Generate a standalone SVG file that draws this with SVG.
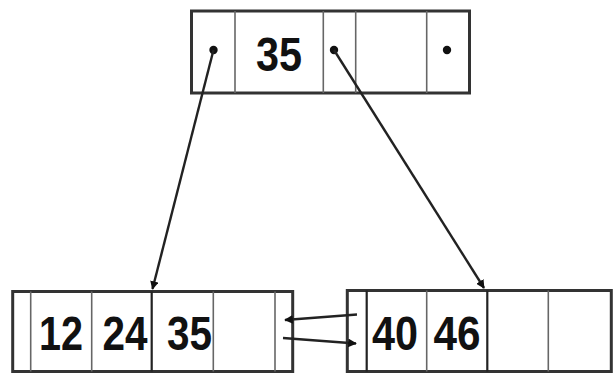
<svg xmlns="http://www.w3.org/2000/svg" width="613" height="374" viewBox="0 0 613 374">
<defs>
<style>
.box{fill:#fff;stroke:#333;stroke-width:3}
.div{stroke:#666;stroke-width:1.6}
.divk{stroke:#222;stroke-width:2.2}
.num{font-family:"Liberation Sans",Arial,sans-serif;font-size:48px;font-weight:bold;fill:#111;text-anchor:middle}
.dot{fill:#111}
.con{stroke:#222;stroke-width:2.4;fill:none}
</style>
<marker id="ah" viewBox="0 0 10 10" refX="9" refY="5" markerWidth="3.6" markerHeight="3.6" orient="auto" markerUnits="strokeWidth">
<path d="M0,0 L10,5 L0,10 z" fill="#111"/>
</marker>
</defs>
<rect width="613" height="374" fill="#fff"/>
<g id="root">
<rect class="box" x="191.5" y="11" width="278" height="82"/>
<line class="div" x1="235" y1="11" x2="235" y2="93"/>
<line class="div" x1="323.3" y1="11" x2="323.3" y2="93"/>
<line class="div" x1="355.7" y1="11" x2="355.7" y2="93"/>
<line class="div" x1="426.7" y1="11" x2="426.7" y2="93"/>
<circle class="dot" cx="213.5" cy="50" r="4.2"/>
<circle class="dot" cx="334" cy="50" r="4.2"/>
<circle class="dot" cx="447" cy="50" r="4.2"/>
<text class="num" x="279" y="71" textLength="46" lengthAdjust="spacingAndGlyphs">35</text>
</g>
<g id="leaf-left">
<rect class="box" x="12.7" y="291.5" width="280" height="80"/>
<line class="div" x1="30.7" y1="291.5" x2="30.7" y2="371.5"/>
<line class="div" x1="91.7" y1="291.5" x2="91.7" y2="371.5"/>
<line class="divk" x1="151.7" y1="291.5" x2="151.7" y2="371.5"/>
<line class="div" x1="213.3" y1="291.5" x2="213.3" y2="371.5"/>
<line class="div" x1="275" y1="291.5" x2="275" y2="371.5"/>
<text class="num" x="61" y="350" textLength="44" lengthAdjust="spacingAndGlyphs">12</text>
<text class="num" x="125" y="350" textLength="45" lengthAdjust="spacingAndGlyphs">24</text>
<text class="num" x="189.5" y="350" textLength="45" lengthAdjust="spacingAndGlyphs">35</text>
</g>
<g id="leaf-right">
<rect class="box" x="347.3" y="290.5" width="264" height="81"/>
<line class="divk" x1="366.7" y1="290.5" x2="366.7" y2="371.5"/>
<line class="div" x1="426.7" y1="290.5" x2="426.7" y2="371.5"/>
<line class="divk" x1="487.3" y1="290.5" x2="487.3" y2="371.5"/>
<line class="div" x1="548.3" y1="290.5" x2="548.3" y2="371.5"/>
<text class="num" x="395" y="350" textLength="46" lengthAdjust="spacingAndGlyphs">40</text>
<text class="num" x="457" y="350" textLength="47" lengthAdjust="spacingAndGlyphs">46</text>
</g>
<g id="connectors">
<line class="con" x1="213.5" y1="50" x2="152.5" y2="289" marker-end="url(#ah)"/>
<line class="con" x1="334" y1="50" x2="484" y2="288" marker-end="url(#ah)"/>
<line class="con" x1="357" y1="314.5" x2="285" y2="320" marker-end="url(#ah)"/>
<line class="con" x1="283" y1="338" x2="356" y2="343.5" marker-end="url(#ah)"/>
</g>
</svg>
